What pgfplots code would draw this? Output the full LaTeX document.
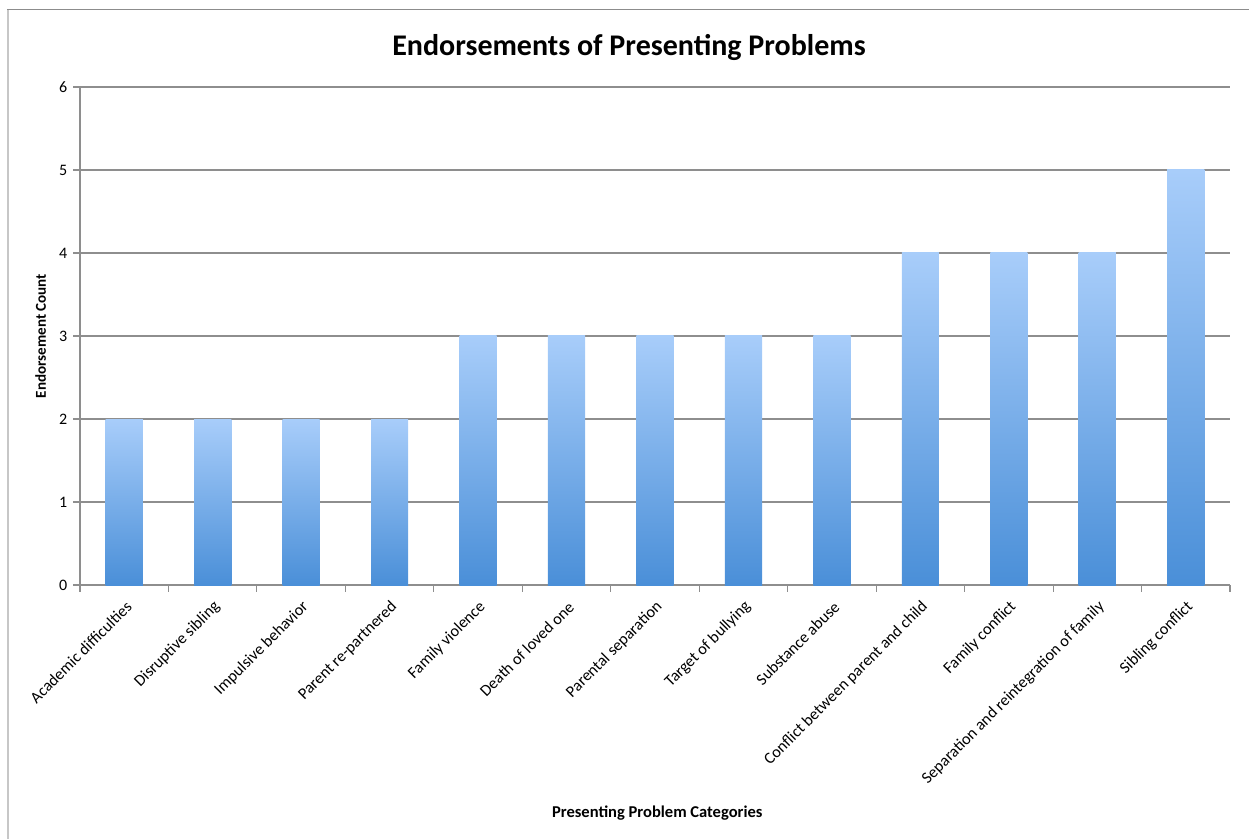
\documentclass[border=0pt]{standalone}
\usepackage{pgfplots}
\pgfplotsset{compat=1.18}
\usepackage{fontspec}
\setmainfont{Carlito}
\definecolor{gridgray}{HTML}{8E8E8E}
\definecolor{barTop}{HTML}{A8CDFA}
\definecolor{barBot}{HTML}{4A8FD8}
\pgfplotsset{gradbar/.style={ybar, bar width=0.42, draw=none, bottom color=barBot, top color=barTop}}
\begin{document}
\begin{tikzpicture}[x=0.75pt,y=0.75pt]
\path[use as bounding box] (0,0) rectangle (1249,839);
\draw[color=black!22, line width=2pt] (8,0) -- (8,829.5);
\draw[color=black!45, line width=1.2pt] (7,829.5) -- (1249,829.5);
\node[font=\fontsize{22.5}{26}\selectfont\bfseries] at (629,791) {Endorsements of Presenting Problems};
\begin{axis}[
  at={(60pt,190.5pt)}, anchor=south west,
  scale only axis, width=862.5pt, height=373.5pt,
  xmin=-0.5, xmax=12.5, ymin=0, ymax=6,
  axis line style={gridgray, line width=0.8pt},
  axis x line*=bottom, axis y line*=left,
  ymajorgrids, grid style={gridgray, line width=0.8pt},
  ytick={0,1,...,6},
  xtick={0,...,12},
  xticklabels={Academic difficulties, Disruptive sibling, Impulsive behavior, Parent re-partnered, Family violence, Death of loved one, Parental separation, Target of bullying, Substance abuse, Conflict between parent and child, Family conflict, Separation and reintegration of family, Sibling conflict},
  minor xtick={-0.5,0.5,...,12.5},
  major x tick style={draw=none},
  minor x tick style={gridgray, line width=0.8pt},
  y tick style={gridgray, line width=0.8pt},
  tick align=outside,
  major tick length=5pt, minor tick length=5pt,
  /pgf/number format/assume math mode=true,
  yticklabel style={font=\fontsize{12}{14}\selectfont, xshift=-1pt},
  xticklabel style={font=\fontsize{12.2}{14}\selectfont, xshift=6pt, yshift=-7pt, rotate=45, anchor=east},
  ylabel={\bfseries Endorsement Count},
  ylabel style={font=\fontsize{11.3}{13}\selectfont, at={(-22pt,0.5)}, anchor=south},
  xlabel={\bfseries Presenting Problem Categories},
  xlabel style={font=\fontsize{12.4}{14}\selectfont, at={(0.502,-171pt)}, anchor=center},
  clip=false,
]
\addplot[gradbar] coordinates {(0,2)};
\addplot[gradbar] coordinates {(1,2)};
\addplot[gradbar] coordinates {(2,2)};
\addplot[gradbar] coordinates {(3,2)};
\addplot[gradbar] coordinates {(4,3)};
\addplot[gradbar] coordinates {(5,3)};
\addplot[gradbar] coordinates {(6,3)};
\addplot[gradbar] coordinates {(7,3)};
\addplot[gradbar] coordinates {(8,3)};
\addplot[gradbar] coordinates {(9,4)};
\addplot[gradbar] coordinates {(10,4)};
\addplot[gradbar] coordinates {(11,4)};
\addplot[gradbar] coordinates {(12,5)};
\end{axis}
\end{tikzpicture}
\end{document}
